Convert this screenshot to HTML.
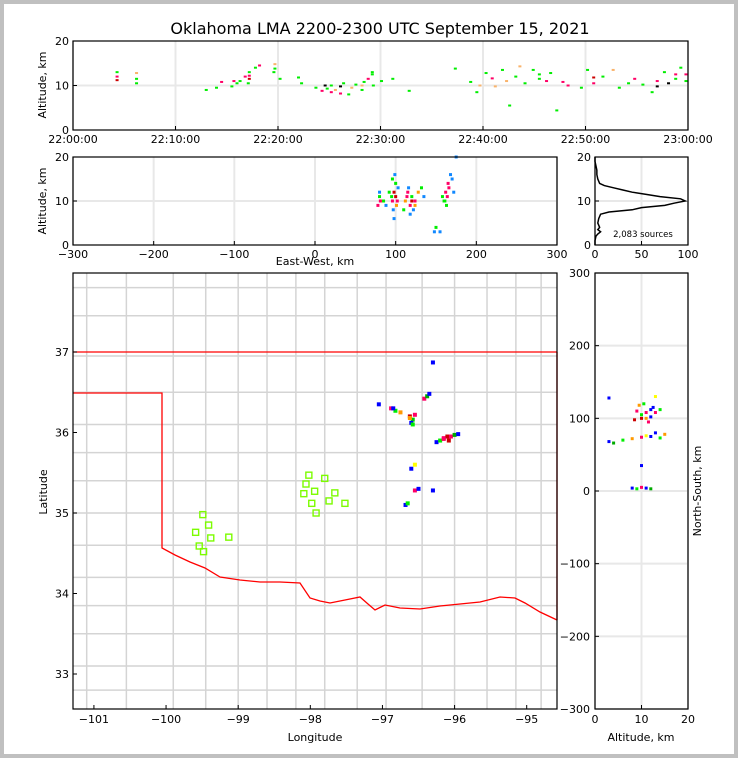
<!DOCTYPE html>
<html><head><meta charset="utf-8">
<style>
body{margin:0;background:#fff;}
svg{display:block;font-family:"DejaVu Sans","Liberation Sans",sans-serif;}
</style></head>
<body>
<svg id="fig" width="738" height="758" viewBox="0 0 738 758" xmlns="http://www.w3.org/2000/svg">
<rect x="0" y="0" width="738" height="758" fill="#c0c0c0"/>
<rect x="4" y="4" width="730" height="750" fill="#fff"/>
<text x="380" y="34" font-size="16" text-anchor="middle">Oklahoma LMA 2200-2300 UTC September 15, 2021</text>
<g id="g"></g>
</svg>
<script>
// ---- data ----
const timeTicks = ["22:00:00","22:10:00","22:20:00","22:30:00","22:40:00","22:50:00","23:00:00"];
const thMin = [4.3,4.3,4.3,6.2,6.2,6.2,13,14,14.5,15.5,15.7,16,16.3,16.8,17.1,17.2,17.2,17.2,17.8,18.2,19.6,19.7,19.7,20.2,22,22.3,23.7,24.3,24.6,24.8,25.2,25.2,25.6,26.1,26.1,26.4,26.9,27.2,27.6,28.2,28.2,28.4,28.8,29.2,29.2,29.3,30.1,31.2,32.8,37.3,38.8,39.4,39.7,40.3,40.9,41.2,41.9,42.3,42.6,43.2,43.6,44.1,44.9,45.5,45.5,46.2,46.6,47.2,47.8,48.3,49.6,50.2,50.8,50.8,51.7,52.7,53.3,54.2,54.8,55.6,56.5,57,57,57.7,58.1,58.8,58.8,59.3,59.8,59.8];
const thAlt = [12,13,11.2,11.5,12.8,10.5,9,9.5,10.8,9.8,11,10.5,11,12,10.5,13,11.5,12.2,14,14.5,13,14.8,13.8,11.5,11.8,10.5,9.5,8.8,10,9.3,8.5,10,9,8.2,9.8,10.5,8,9.5,10.2,9,10,10.8,11.5,12.5,13,10,11,11.5,8.8,13.8,10.8,8.5,10,12.8,11.6,9.8,13.5,11,5.5,12,14.3,10.5,13.5,11.5,12.5,11,12.8,4.4,10.8,10,9.5,13.5,10.5,11.8,12,13.5,9.5,10.5,11.5,10.2,8.5,11,9.8,13,10.5,12.5,11.5,14,11,12.5];
const thCol = ["#f06","#0e0","#c00","#0e0","#f9b36b","#0e0","#0e0","#0e0","#f06","#0e0","#f06","#0e0","#0e0","#f06","#0e0","#0e0","#c00","#f06","#0e0","#f06","#0e0","#f9b36b","#0e0","#0e0","#0e0","#0e0","#0e0","#f06","#000","#0e0","#f06","#0e0","#f9b36b","#f06","#000","#0e0","#0e0","#f9b36b","#0e0","#0e0","#f9b36b","#0e0","#f06","#0e0","#0e0","#0e0","#0e0","#0e0","#0e0","#0e0","#0e0","#0e0","#f9b36b","#0e0","#f06","#f9b36b","#0e0","#f9b36b","#0e0","#0e0","#f9b36b","#0e0","#0e0","#0e0","#0e0","#f06","#0e0","#0e0","#f06","#f06","#0e0","#0e0","#f06","#c00","#0e0","#f9b36b","#0e0","#0e0","#f06","#0e0","#0e0","#f06","#000","#0e0","#000","#f06","#0e0","#0e0","#0e0","#f06"];
const ewTicks = [-300,-200,-100,0,100,200,300];
const ewX = [78,80,82,80,96,98,100,97,99,101,95,103,112,115,118,120,122,116,124,110,128,132,135,160,162,165,168,170,163,166,172,158,155,150,148,88,92,175,98,118,100,102,114,120,164,161,96,81,85,124];
const ewAlt = [9,11,10,12,10,12,14,8,16,9,11,13,10,12,9,11,8,13,10,8,12,13,11,10,12,14,16,15,9,13,12,11,3,4,3,9,12,20,6,7,11,10,11,10,11,10,15,10,10,9];
const ewCol = ["#f06","#0e0","#f90","#18f","#f06","#c00","#0e0","#18f","#18f","#f90","#0e0","#18f","#f90","#f06","#f06","#0e0","#18f","#18f","#f06","#0e0","#f90","#0e0","#18f","#0e0","#f06","#f06","#18f","#18f","#0e0","#f06","#18f","#0e0","#18f","#0e0","#18f","#18f","#0e0","#18f","#18f","#18f","#c00","#f06","#f06","#c00","#f06","#0e0","#0e0","#f06","#0e0","#f90"];
const histAlt = [0,1,2,2.5,3,3.5,4,5,6,7,7.5,8,8.5,9,9.5,10,10.5,11,11.5,12,12.5,13,13.5,14,15,16,17,18,19,20];
const histCnt = [0,0,1,3,6,3,5,3,4,6,15,40,50,75,85,97,92,70,55,40,30,20,10,5,3,2,2,1,0,0];
const lonTicks = [-101,-100,-99,-98,-97,-96,-95];
const latTicks = [33,34,35,36,37];
const srcLon = [-96.88,-96.82,-96.75,-96.85,-96.62,-96.58,-96.55,-96.6,-96.42,-96.38,-96.35,-96.25,-96.2,-96.15,-96.1,-96.05,-96.0,-95.95,-96.3,-96.6,-96.55,-96.68,-96.65,-97.05,-96.3,-96.55,-96.5,-96.58,-96.62,-96.15,-96.08];
const srcLat = [36.3,36.27,36.25,36.3,36.2,36.16,36.22,36.12,36.42,36.45,36.48,35.88,35.9,35.93,35.95,35.95,35.97,35.98,36.87,35.55,35.6,35.1,35.12,36.35,35.28,35.28,35.3,36.1,36.18,35.92,35.9];
const srcCol = ["#f06","#0e0","#f90","#00f","#c00","#0c0","#f06","#00f","#f06","#0a0","#00f","#00f","#0e0","#f06","#c00","#f06","#0a0","#00f","#00f","#00f","#ff0","#00f","#0e0","#00f","#00f","#f06","#00f","#0e0","#f90","#f06","#c00"];
const stnLon = [-98.02,-97.80,-98.06,-97.94,-98.09,-97.66,-97.98,-97.74,-97.52,-97.92,-99.49,-99.41,-99.59,-99.38,-99.13,-99.54,-99.48];
const stnLat = [35.47,35.43,35.36,35.27,35.24,35.25,35.12,35.15,35.12,35.00,34.98,34.85,34.76,34.69,34.70,34.59,34.52];
const nsTicks = [-300,-200,-100,0,100,200,300];
const nsAlt = [9,10,11,12,13,8.5,10.5,11.5,12.5,9.5,14,13,3,4,6,8,10,12,14,15,11,13,8,9,10,11,12,10,3,10,11,12];
const nsY = [110,105,100,112,108,98,120,95,115,118,112,130,68,66,70,72,74,75,73,78,76,80,4,3,5,4,3,35,128,100,108,102];
const nsCol = ["#f06","#0e0","#f90","#00f","#f06","#c00","#0e0","#f06","#00f","#f90","#0e0","#ff0","#00f","#0a0","#0e0","#f90","#f06","#00f","#0e0","#f90","#ff0","#00f","#00f","#0e0","#f06","#00f","#0a0","#00f","#00f","#c00","#f06","#00f"];

// ---- helpers ----
const NS="http://www.w3.org/2000/svg";
const G=document.getElementById('g');
function el(t,a,p){const e=document.createElementNS(NS,t);for(const k in a)e.setAttribute(k,a[k]);(p||G).appendChild(e);return e;}
function lin(d0,d1,r0,r1){return v=>r0+(v-d0)*(r1-r0)/(d1-d0);}
function frame(x,y,w,h,name){const r=el('rect',{x:x,y:y,width:w,height:h,fill:'none',stroke:'#000','stroke-width':1.2});

}
function txt(x,y,s,opt){const t=el('text',Object.assign({x:x,y:y,'font-size':11},opt||{}));t.textContent=s;return t;}
function grid(x1,y1,x2,y2){const l=el('line',{x1:x1,y1:y1,x2:x2,y2:y2,stroke:'#e8e8e8','stroke-width':2});

}
function tick(x1,y1,x2,y2){const l=el('line',{x1:x1,y1:y1,x2:x2,y2:y2,stroke:'#000','stroke-width':1});

}
function ylabel(x,y,s,name){const t=txt(x,y,s,{transform:`rotate(-90 ${x} ${y})`,'text-anchor':'middle'});

}

// ---- panel 1: time-height ----
{const X=lin(0,60,73,688),Y=lin(0,20,130,41);
for(let i=0;i<7;i++){grid(X(i*10),41,X(i*10),130);}
grid(73,Y(10),688,Y(10));
for(let i=0;i<thMin.length;i++){const r=el('rect',{x:X(thMin[i])-1.5,y:Y(thAlt[i])-1,width:3,height:2,fill:thCol[i]});

}
frame(73,41,615,89,'time-height-panel');
timeTicks.forEach((s,i)=>{tick(X(i*10),130,X(i*10),126);const t=txt(X(i*10),143,s,{'text-anchor':'middle'});

});
[0,10,20].forEach(v=>{tick(73,Y(v),77,Y(v));const t=txt(69,Y(v)+4,v,{'text-anchor':'end'});

});
ylabel(46,85,'Altitude, km','time-height-y-title');}

// ---- panel 2: east-west vs altitude ----
{const X=lin(-300,300,73,557),Y=lin(0,20,245,157);
ewTicks.forEach(v=>grid(X(v),157,X(v),245));grid(73,Y(10),557,Y(10));
for(let i=0;i<ewX.length;i++){const r=el('rect',{x:X(ewX[i])-1.5,y:Y(ewAlt[i])-1.5,width:3,height:3,fill:ewCol[i]});

}
frame(73,157,484,88,'ew-altitude-panel');
ewTicks.forEach(v=>{tick(X(v),245,X(v),241);const t=txt(X(v),258,v<0?'\u2212'+(-v):v,{'text-anchor':'middle'});

});
[0,10,20].forEach(v=>{tick(73,Y(v),77,Y(v));const t=txt(69,Y(v)+4,v,{'text-anchor':'end'});

});
const t=txt(315,265,'East-West, km',{'text-anchor':'middle'});


ylabel(46,201,'Altitude, km','ew-y-title');}

// ---- panel 3: histogram ----
{const X=lin(0,100,595,688),Y=lin(0,20,245,157);
[0,50,100].forEach(v=>grid(X(v),157,X(v),245));grid(595,Y(10),688,Y(10));
const p=el('polyline',{points:histAlt.map((a,i)=>X(histCnt[i])+','+Y(a)).join(' '),fill:'none',stroke:'#000','stroke-width':1.5});


frame(595,157,93,88,'histogram-panel');
[0,50,100].forEach(v=>{tick(X(v),245,X(v),241);const t=txt(X(v),258,v,{'text-anchor':'middle'});

});
[0,10,20].forEach(v=>{tick(595,Y(v),599,Y(v));const t=txt(591,Y(v)+4,v,{'text-anchor':'end'});

});
const t=txt(643,237,'2,083 sources',{'text-anchor':'middle','font-size':8.5});

}

// ---- panel 4: map ----
{const X=lin(-101.29,-94.58,73,557),Y=lin(33,37,674,352);
// county lines (simplified)
const vLons=[-101.1,-100.55,-99.9,-99.45,-99.0,-98.6,-98.2,-97.8,-97.35,-96.95,-96.45,-96.0,-95.55,-95.15,-94.8];
vLons.forEach(lo=>{const l=el('line',{x1:X(lo),y1:273,x2:X(lo),y2:709,stroke:'#d4d4d4','stroke-width':1.5});

});
const hLats=[37.8,37.45,36.95,36.5,36.1,35.75,35.4,35.0,34.6,34.2,33.85,33.5,33.1,32.8];
hLats.forEach(la=>{const l=el('line',{x1:73,y1:Y(la),x2:557,y2:Y(la),stroke:'#d4d4d4','stroke-width':1.5});

});
const bnd=el('line',{x1:73,y1:352,x2:557,y2:352,stroke:'red','stroke-width':1.3});


const st=el('polyline',{points:'73,393 162,393 162,548 175,555 190,562 205,568 220,577 240,580 260,582 280,582 300,583 310,598 320,601 330,603 345,600 360,597 368,604 375,610 385,605 400,608 420,609 440,606 460,604 480,602 500,597 515,598 525,603 540,612 557,620',fill:'none',stroke:'red','stroke-width':1.3});


const ed=el('line',{x1:557,y1:352,x2:557,y2:620,stroke:'red','stroke-width':1.3});


for(let i=0;i<stnLon.length;i++){const r=el('rect',{x:X(stnLon[i])-3,y:Y(stnLat[i])-3,width:6,height:6,fill:'none',stroke:'#7cfc00','stroke-width':1.4});

}
for(let i=0;i<srcLon.length;i++){const r=el('rect',{x:X(srcLon[i])-2,y:Y(srcLat[i])-2,width:4,height:4,fill:srcCol[i]});

}
frame(73,273,484,436,'map-panel');
lonTicks.forEach(v=>{tick(X(v),709,X(v),705);const t=txt(X(v),723,'\u2212'+(-v),{'text-anchor':'middle'});

});
latTicks.forEach(v=>{tick(73,Y(v),77,Y(v));const t=txt(69,Y(v)+4,v,{'text-anchor':'end'});

});
const t=txt(315,741,'Longitude',{'text-anchor':'middle'});


ylabel(47,492,'Latitude','map-y-title');}

// ---- panel 5: north-south vs altitude ----
{const X=lin(0,20,595,688),Y=lin(-300,300,709,273);
[0,10,20].forEach(v=>grid(X(v),273,X(v),709));nsTicks.forEach(v=>grid(595,Y(v),688,Y(v)));
for(let i=0;i<nsAlt.length;i++){const r=el('rect',{x:X(nsAlt[i])-1.5,y:Y(nsY[i])-1.5,width:3,height:3,fill:nsCol[i]});

}
frame(595,273,93,436,'ns-altitude-panel');
[0,10,20].forEach(v=>{tick(X(v),709,X(v),705);const t=txt(X(v),723,v,{'text-anchor':'middle'});

});
nsTicks.forEach(v=>{tick(595,Y(v),599,Y(v));const t=txt(590,Y(v)+4,v<0?'\u2212'+(-v):v,{'text-anchor':'end'});

});
const t=txt(641,741,'Altitude, km',{'text-anchor':'middle'});


const t2=txt(701,491,'North-South, km',{transform:'rotate(-90 701 491)','text-anchor':'middle'});

}
</script>
</body></html>
